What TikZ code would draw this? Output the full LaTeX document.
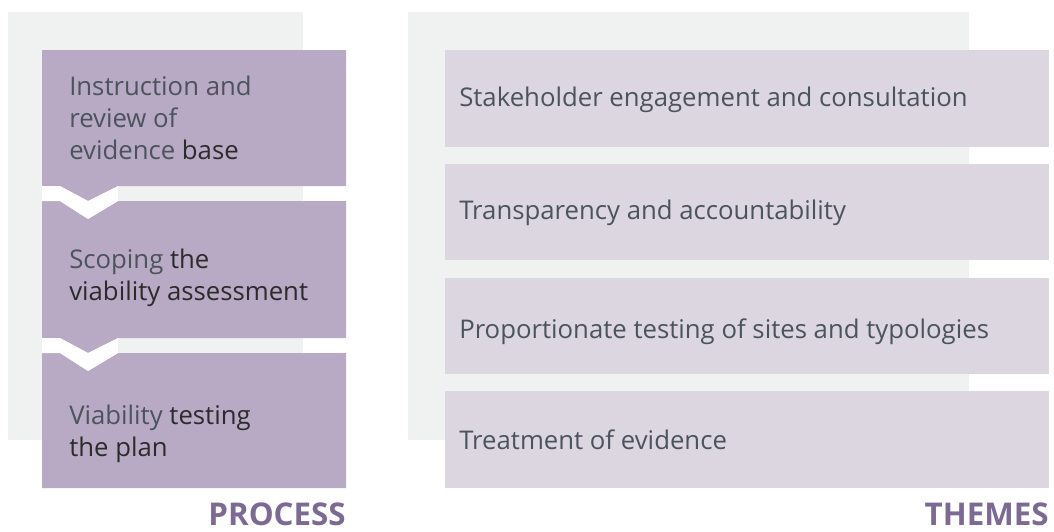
\documentclass[tikz,border=0pt]{standalone}
\usepackage{fontspec}
\setmainfont{Open Sans}
\definecolor{bggray}{HTML}{F0F1F1}
\definecolor{procfill}{HTML}{B8AAC4}
\definecolor{themefill}{HTML}{DCD6E1}
\definecolor{titlepurple}{HTML}{7C6A95}
\definecolor{txtgray}{HTML}{4B545D}
\definecolor{txtdark}{HTML}{2B2B2B}
\begin{document}
\begin{tikzpicture}[x=0.75pt,y=-0.75pt,
  txt/.style={anchor=base west, inner sep=0pt, font=\fontsize{19.3}{24}\selectfont, text=txtgray},
  heading/.style={anchor=base east, inner sep=0pt, font=\fontsize{23.5}{28}\selectfont\bfseries, text=titlepurple},
  procbox/.style={fill=procfill},
  themebox/.style={fill=themefill},
  panel/.style={fill=bggray},
  band/.style={fill=white}]
\useasboundingbox (0,0) rectangle (1054,532);
% background panels
\path[panel] (8,12) rectangle (303,440);
\path[panel] (408,12) rectangle (969,440);
% process boxes with chevrons
\path[procbox] (42,50) -- (346,50) -- (346,186) -- (118,186) -- (88,201) -- (60,186) -- (42,186) -- cycle;
\path[procbox] (42,201) -- (60,201) -- (88,219) -- (118,201) -- (346,201) -- (346,338) -- (118,338) -- (88,353) -- (60,338) -- (42,338) -- cycle;
\path[procbox] (42,353) -- (60,353) -- (88,371) -- (118,353) -- (346,353) -- (346,488) -- (42,488) -- cycle;
\path[band] (42,186) -- (60,186) -- (88,201) -- (118,186) -- (118,201) -- (88,219) -- (60,201) -- (42,201) -- cycle;
\path[band] (42,338) -- (60,338) -- (88,353) -- (118,338) -- (118,353) -- (88,371) -- (60,353) -- (42,353) -- cycle;
% theme boxes
\path[themebox] (445,50) rectangle (1049,147);
\path[themebox] (445,164) rectangle (1049,260);
\path[themebox] (445,278) rectangle (1049,374);
\path[themebox] (445,391) rectangle (1049,488);
% process texts
\node[txt] (p1a) at (69,95) {Instruction and};
\node[txt] (p1b) at (69,127) {review of};
\node[txt] (p1c) at (69,159) {evidence \textcolor{txtdark}{base}};
\node[txt] (p2a) at (69,268) {Scoping \textcolor{txtdark}{the}};
\node[txt, text=txtdark] (p2b) at (69,300) {viability assessment};
\node[txt] (p3a) at (69,424) {Viability \textcolor{txtdark}{testing}};
\node[txt, text=txtdark] (p3b) at (69,456) {the plan};
% theme texts
\node[txt] (t1) at (459,106) {Stakeholder engagement and consultation};
\node[txt] (t2) at (459,219) {Transparency and accountability};
\node[txt] (t3) at (459,338) {Proportionate testing of sites and typologies};
\node[txt] (t4) at (459,449) {Treatment of evidence};
% headings
\node[heading] (process) at (346,525) {PROCESS};
\node[heading] (themes) at (1049,525) {THEMES};
\end{tikzpicture}
\end{document}
